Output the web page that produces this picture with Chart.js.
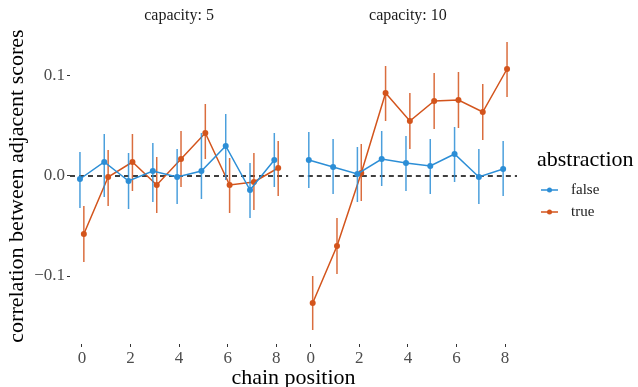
<!DOCTYPE html>
<html>
<head>
<meta charset="utf-8">
<script src="https://cdn.jsdelivr.net/npm/chart.js@4"></script>
<style>
  html, body { margin: 0; padding: 0; background: #fff; }
  #wrap { width: 638px; height: 387px; }
</style>
</head>
<body>
<div id="wrap"><canvas id="chart" width="638" height="387"></canvas></div>
<script>
// chain positions and facet labels
const positions = [0, 1, 2, 3, 4, 5, 6, 7, 8];
const xTicks = [0, 2, 4, 6, 8];
const yTicks = [-0.1, 0, 0.1];
const facets = ['capacity: 5', 'capacity: 10'];
const groups = ['false', 'true'];

// capacity 5
const false5   = [-0.003, 0.014, -0.005, 0.005, -0.001, 0.005, 0.030, -0.014, 0.016];
const false5Lo = [-0.032, -0.021, -0.033, -0.026, -0.028, -0.023, -0.004, -0.042, -0.011];
const false5Hi = [0.024, 0.042, 0.023, 0.033, 0.027, 0.043, 0.062, 0.013, 0.043];
const true5    = [-0.058, -0.001, 0.014, -0.009, 0.017, 0.043, -0.009, -0.006, 0.008];
const true5Lo  = [-0.086, -0.030, -0.015, -0.037, -0.011, 0.017, -0.037, -0.034, -0.020];
const true5Hi  = [-0.030, 0.026, 0.042, 0.019, 0.045, 0.072, 0.018, 0.023, 0.035];

// capacity 10
const false10   = [0.016, 0.009, 0.002, 0.017, 0.013, 0.010, 0.022, -0.001, 0.007];
const false10Lo = [-0.012, -0.018, -0.026, -0.010, -0.015, -0.018, -0.006, -0.028, -0.020];
const false10Hi = [0.044, 0.037, 0.029, 0.045, 0.040, 0.037, 0.049, 0.027, 0.035];
const true10    = [-0.127, -0.070, 0.003, 0.083, 0.055, 0.075, 0.076, 0.064, 0.107];
const true10Lo  = [-0.154, -0.098, -0.025, 0.055, 0.027, 0.047, 0.048, 0.036, 0.079];
const true10Hi  = [-0.100, -0.042, 0.032, 0.110, 0.083, 0.103, 0.104, 0.092, 0.134];

const blue = '#2c8ed6';
const orange = '#d3541c';
const serif = "'Liberation Serif', 'DejaVu Serif', serif";

// both facets share one x scale, the second one is shifted
const facetShift = 9.42;
const dodge = 0.08;
const xMin = -0.49, xMax = 8.49 + facetShift;
const yMin = -0.168, yMax = 0.148;

function pts(vals, lo, hi, facet, d) {
  return vals.map((v, i) => ({ x: positions[i] + d + facet * facetShift, y: v, lo: lo[i], hi: hi[i] }));
}

function series(label, color, vals, lo, hi, facet, d) {
  return {
    label: label,
    data: pts(vals, lo, hi, facet, d),
    borderColor: color,
    backgroundColor: color,
    borderWidth: 1.5,
    pointRadius: 3,
    pointHoverRadius: 3,
    pointBorderWidth: 0,
    tension: 0
  };
}

const datasets = [
  series('false', blue, false5, false5Lo, false5Hi, 0, -dodge),
  series('false', blue, false10, false10Lo, false10Hi, 1, -dodge),
  series('true', orange, true5, true5Lo, true5Hi, 0, dodge),
  series('true', orange, true10, true10Lo, true10Hi, 1, dodge)
];

// dashed zero line, per panel
const zeroLine = {
  id: 'zeroLine',
  beforeDatasetsDraw(chart) {
    const { ctx, scales: { x, y } } = chart;
    const py = y.getPixelForValue(0);
    ctx.save();
    ctx.strokeStyle = '#000';
    ctx.lineWidth = 1.3;
    ctx.setLineDash([5, 4]);
    [[xMin, 8.49], [xMin + facetShift, xMax]].forEach(r => {
      ctx.beginPath();
      ctx.moveTo(x.getPixelForValue(r[0]), py);
      ctx.lineTo(x.getPixelForValue(r[1]), py);
      ctx.stroke();
    });
    ctx.restore();
  }
};

// vertical error bars
const errorBars = {
  id: 'errorBars',
  beforeDatasetDraw(chart, args) {
    const { ctx, scales: { y } } = chart;
    const ds = chart.data.datasets[args.index];
    const meta = args.meta;
    ctx.save();
    ctx.strokeStyle = ds.borderColor;
    ctx.globalAlpha = 0.85;
    ctx.lineWidth = 1.5;
    meta.data.forEach((el, i) => {
      const d = ds.data[i];
      ctx.beginPath();
      ctx.moveTo(el.x, y.getPixelForValue(d.lo));
      ctx.lineTo(el.x, y.getPixelForValue(d.hi));
      ctx.stroke();
    });
    ctx.restore();
  }
};

// strip labels and legend
const extras = {
  id: 'extras',
  afterDraw(chart) {
    const { ctx, scales: { x } } = chart;
    ctx.save();
    ctx.fillStyle = '#1a1a1a';
    ctx.font = '16px ' + serif;
    ctx.textAlign = 'center';
    ctx.textBaseline = 'middle';
    facets.forEach((f, i) => {
      ctx.fillText(f, x.getPixelForValue(4 + i * facetShift), 16);
    });
    // legend
    ctx.textAlign = 'left';
    ctx.fillStyle = '#000';
    ctx.font = '22px ' + serif;
    ctx.fillText('abstraction', 537, 160);
    [blue, orange].forEach((c, i) => {
      const yy = 190 + i * 22;
      ctx.strokeStyle = c;
      ctx.lineWidth = 1.5;
      ctx.beginPath();
      ctx.moveTo(541, yy);
      ctx.lineTo(558, yy);
      ctx.stroke();
      ctx.fillStyle = c;
      ctx.beginPath();
      ctx.arc(549.5, yy, 2.5, 0, Math.PI * 2);
      ctx.fill();
      ctx.fillStyle = '#1a1a1a';
      ctx.font = '15px ' + serif;
      ctx.fillText(groups[i], 571, yy);
    });
    ctx.restore();
  }
};

new Chart(document.getElementById('chart'), {
  type: 'line',
  data: { datasets: datasets },
  plugins: [zeroLine, errorBars, extras],
  options: {
    responsive: false,
    animation: false,
    events: [],
    layout: { padding: { top: 28, right: 121, left: 0, bottom: 0 } },
    plugins: { legend: { display: false }, tooltip: { enabled: false } },
    scales: {
      x: {
        type: 'linear',
        min: xMin,
        max: xMax,
        afterBuildTicks(s) {
          s.ticks = [];
          [0, 1].forEach(f => xTicks.forEach(t => s.ticks.push({ value: t + f * facetShift })));
        },
        afterFit(s) { s.height = 43; },
        ticks: {
          autoSkip: false,
          maxRotation: 0,
          padding: 1,
          color: '#4d4d4d',
          font: { family: serif, size: 17 },
          callback: v => String(Math.round(v > 8.5 ? v - facetShift : v))
        },
        grid: { drawOnChartArea: false, drawTicks: true, tickLength: 3, color: '#333' },
        border: { display: false },
        title: {
          display: true,
          text: 'chain position',
          color: '#000',
          font: { family: serif, size: 22 },
          padding: { top: 0, bottom: -4 }
        }
      },
      y: {
        type: 'linear',
        min: yMin,
        max: yMax,
        afterBuildTicks(s) { s.ticks = yTicks.map(v => ({ value: v })); },
        afterFit(s) { s.width = 70; },
        ticks: {
          padding: 2,
          color: '#4d4d4d',
          font: { family: serif, size: 17 },
          callback: v => (v < 0 ? '\u2212' : '') + Math.abs(v).toFixed(1)
        },
        grid: { drawOnChartArea: false, drawTicks: true, tickLength: 3, color: '#333' },
        border: { display: false },
        title: {
          display: true,
          text: 'correlation between adjacent scores',
          color: '#000',
          font: { family: serif, size: 22 },
          padding: { top: 4, bottom: 4 }
        }
      }
    }
  }
});
</script>
</body>
</html>
